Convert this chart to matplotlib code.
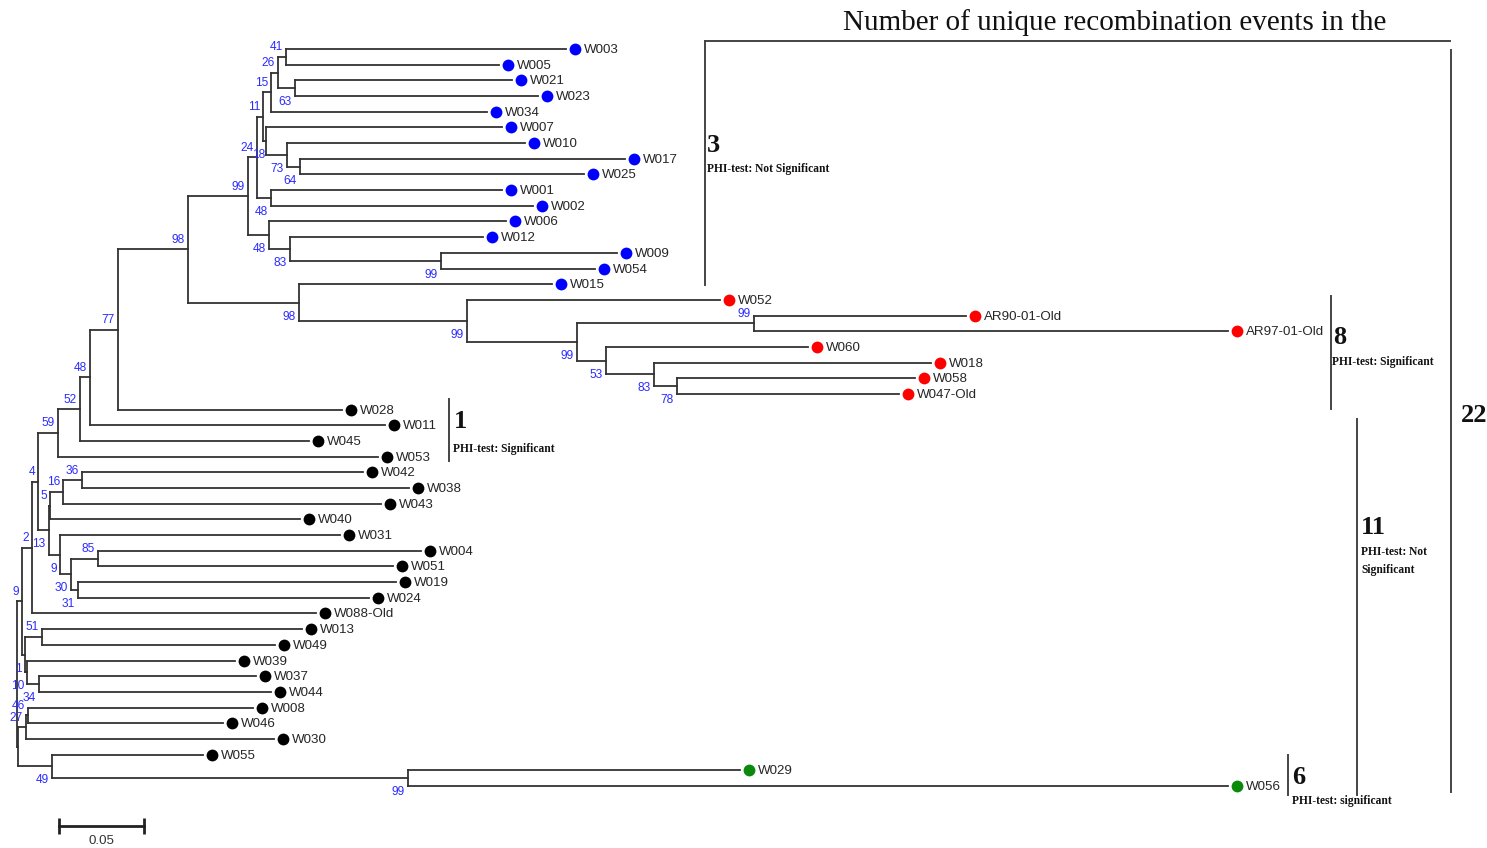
import numpy as np
import matplotlib
matplotlib.use("Agg")
import matplotlib.pyplot as plt
from matplotlib.transforms import offset_copy

# ---------------------------------------------------------
# DATA: tips (top to bottom), tip depth (subst./site), clade
# ---------------------------------------------------------
leaf_names = ["W003", "W005", "W021", "W023", "W034", "W007", "W010", "W017",
              "W025", "W001", "W002", "W006", "W012", "W009", "W054", "W015",
              "W052", "AR90-01-Old", "AR97-01-Old", "W060", "W018", "W058", "W047-Old",
              "W028", "W011", "W045", "W053", "W042", "W038", "W043", "W040",
              "W031", "W004", "W051", "W019", "W024", "W088-Old", "W013", "W049",
              "W039", "W037", "W044", "W008", "W046", "W030", "W055",
              "W029", "W056"]
leaf_depth = [0.3229, 0.2835, 0.2912, 0.3065, 0.2765, 0.2853, 0.2988, 0.3576,
              0.3335, 0.2853, 0.3035, 0.2876, 0.2741, 0.3529, 0.3400, 0.3147,
              0.4135, 0.5582, 0.7124, 0.4653, 0.5376, 0.5282, 0.5188,
              0.1912, 0.2165, 0.1718, 0.2124, 0.2035, 0.2306, 0.2141, 0.1665,
              0.1900, 0.2376, 0.2212, 0.2229, 0.2071, 0.1759, 0.1676, 0.1518,
              0.1282, 0.1406, 0.1494, 0.1388, 0.1212, 0.1512, 0.1094,
              0.4253, 0.7124]
leaf_clade = ["blue"] * 16 + ["red"] * 7 + ["black"] * 23 + ["green"] * 2

# internal nodes, children listed top first, children before parents
node_names = ["A", "B", "C", "D", "G", "F", "E", "H", "K", "I", "O", "N", "M", "L",
              "U", "Y", "X", "V", "T", "S", "Q", "P", "R", "Z1", "Z2", "Z3",
              "n36", "n16", "n5", "n85", "n31", "n30", "n9b", "n13", "Z4", "n2",
              "n51", "n34", "n10", "n1", "n9a", "n46", "n27", "n99", "n49",
              "r2", "root"]
node_children = [("W003", "W005"), ("W021", "W023"), ("A", "B"), ("C", "W034"),
                 ("W017", "W025"), ("W010", "G"), ("W007", "F"), ("D", "E"),
                 ("W001", "W002"), ("H", "K"), ("W009", "W054"), ("W012", "O"),
                 ("W006", "N"), ("I", "M"),
                 ("AR90-01-Old", "AR97-01-Old"), ("W058", "W047-Old"), ("W018", "Y"),
                 ("W060", "X"), ("U", "V"), ("W052", "T"), ("W015", "S"), ("L", "Q"),
                 ("P", "W028"), ("R", "W011"), ("Z1", "W045"), ("Z2", "W053"),
                 ("W042", "W038"), ("n36", "W043"), ("n16", "W040"),
                 ("W004", "W051"), ("W019", "W024"), ("n85", "n31"), ("W031", "n30"),
                 ("n5", "n9b"), ("Z3", "n13"), ("Z4", "W088-Old"),
                 ("W013", "W049"), ("W037", "W044"), ("W039", "n34"), ("n51", "n10"),
                 ("n2", "n1"), ("W008", "W046"), ("n46", "W030"), ("W029", "W056"),
                 ("W055", "n99"), ("n27", "n49"), ("n9a", "r2")]
node_depth = [0.1582, 0.1635, 0.1535, 0.1494, 0.1665, 0.1588, 0.1465, 0.1447,
              0.1494, 0.1412, 0.2494, 0.1606, 0.1482, 0.1359,
              0.4335, 0.3882, 0.3747, 0.3465, 0.3294, 0.2647, 0.1659, 0.1006,
              0.0594, 0.0429, 0.0371, 0.0241,
              0.0382, 0.0271, 0.0194, 0.0476, 0.0359, 0.0318, 0.0253, 0.0186,
              0.0124, 0.0088, 0.0147, 0.0129, 0.0059, 0.0047, 0.0029,
              0.0065, 0.0053, 0.2300, 0.0206, 0.0006, 0.0]
node_boot = [41, 63, 26, 15, 64, 73, 18, 11, 48, 24, 99, 83, 48, 99,
             99, 78, 83, 53, 99, 99, 98, 98, 77, 48, 52, 59,
             36, 16, 5, 85, 31, 30, 9, 13, 4, 2, 51, 34, 10, 1, 9,
             46, 27, 99, 49, None, None]

clade_colors = {"blue": "#0000ff", "red": "#ff0000", "black": "#000000", "green": "#0a8a0a"}

# ---------------------------------------------------------
# LAYOUT
# ---------------------------------------------------------
W, H = 1487, 848
ROW0, ROWH = 49, 15.68      # pixel row of first tip, row spacing
PX_PER_UNIT = 1700.0        # scale: 0.05 = 85 px
X0 = 17

line_col = "#333333"
tip_font = ["Liberation Sans Narrow", "Liberation Sans", "DejaVu Sans"]
serif = ["Liberation Serif", "DejaVu Serif"]

fig = plt.figure(figsize=(W / 100, H / 100), dpi=100)
ax = fig.add_axes([0, 0, 1, 1])
ax.set_xlim(-X0 / PX_PER_UNIT, (W - X0) / PX_PER_UNIT)
ax.set_ylim((H - ROW0) / ROWH, -ROW0 / ROWH)
ax.axis("off")

ypos = {n: i for i, n in enumerate(leaf_names)}
xpos = dict(zip(leaf_names, leaf_depth))
boot = {}
for name, kids, d, b in zip(node_names, node_children, node_depth, node_boot):
    ypos[name] = np.mean([ypos[k] for k in kids])
    xpos[name] = d
    boot[name] = b

# branches
for name, kids in zip(node_names, node_children):
    ys = [ypos[k] for k in kids]
    ax.plot([xpos[name]] * 2, [min(ys), max(ys)], color=line_col, lw=1.3,
            solid_capstyle="projecting")
    for k in kids:
        ax.plot([xpos[name], xpos[k]], [ypos[k]] * 2, color=line_col, lw=1.3,
                solid_capstyle="projecting")

# bootstrap values
for name, kids in zip(node_names, node_children):
    for j, k in enumerate(kids):
        if boot.get(k) is not None:
            dy = 9.5 if j == 0 else -14
            dx = -1 if k == "E" else -3   # "18" sits over "24" in the original
            ax.annotate(str(boot[k]), (xpos[k], ypos[k]), xytext=(dx, dy),
                        textcoords="offset pixels", ha="right", va="center",
                        color="#2b2bff", fontsize=8.6, family=tip_font)

# tips: dot + name
mark_tr = offset_copy(ax.transData, fig=fig, x=9, y=0, units="dots")
for n, c in zip(leaf_names, leaf_clade):
    ax.plot(xpos[n], ypos[n], "o", color=clade_colors[c], ms=8.5, mew=0,
            transform=mark_tr)
    ax.annotate(n, (xpos[n], ypos[n]), xytext=(18, -1), textcoords="offset pixels",
                ha="left", va="center", fontsize=9.6, family=tip_font, color="#262626")

# scale bar
sb_x, sb_row = (59 - X0) / PX_PER_UNIT, (826 - ROW0) / ROWH
ax.plot([sb_x, sb_x + 0.05], [sb_row] * 2, color="#222222", lw=2,
        marker="|", ms=11, mew=2)
ax.annotate("0.05", (sb_x + 0.025, sb_row), xytext=(0, -15), textcoords="offset pixels",
            ha="center", va="center", fontsize=9.6, family=tip_font, color="#333333")

# ---------------------------------------------------------
# RECOMBINATION ANNOTATIONS (pixel coordinates)
# ---------------------------------------------------------
ov = fig.add_axes([0, 0, 1, 1], facecolor="none")
ov.set_xlim(0, W)
ov.set_ylim(H, 0)
ov.axis("off")

brackets = [((705, 41), (1450, 41)), ((705, 41), (705, 285)), ((1451, 50), (1451, 792)),
            ((1331, 296), (1331, 409)), ((1357, 419), (1357, 795)),
            ((1288, 755), (1288, 795)), ((449, 399), (449, 461))]
for (xa, ya), (xb, yb) in brackets:
    ov.plot([xa, xb], [ya, yb], color="#444444", lw=1.4)

ov.text(843, 23, "Number of unique recombination events in the", ha="left", va="center",
        fontsize=21, family=serif, color="#111111")

big = dict(ha="left", va="center", fontsize=19, family=serif, weight="bold", color="#111111")
small = dict(ha="left", va="center", fontsize=8.3, family=serif, weight="bold", color="#111111")
ov.text(707, 145, "3", **big)
ov.text(707, 169, "PHI-test: Not Significant", **small)
ov.text(454, 422, "1", **big)
ov.text(453, 449, "PHI-test: Significant", **small)
ov.text(1333, 338, "8", **big)
ov.text(1332, 362, "PHI-test: Significant", **small)
ov.text(1361, 527, "11", **big)
ov.text(1361, 552, "PHI-test: Not", **small)
ov.text(1361, 570, "Significant", **small)
ov.text(1292, 777, "6", **big)
ov.text(1292, 801, "PHI-test: significant", **small)
ov.text(1461, 415, "22", **big)

fig.savefig("out.png", dpi=100)
